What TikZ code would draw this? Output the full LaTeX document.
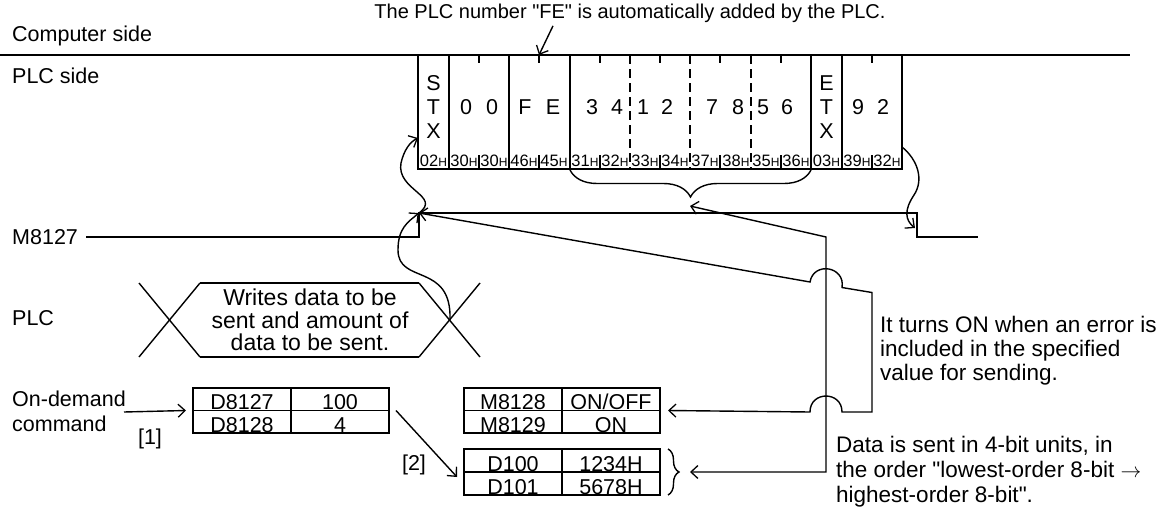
\documentclass[tikz,border=0pt]{standalone}
\usepackage{fontspec}
\setmainfont{Liberation Sans}[Ligatures=TeXOff]
\usetikzlibrary{arrows.meta,decorations.pathreplacing,positioning}
\tikzset{
  wire/.style={line width=1.4pt},
  tip/.style={-{Straight Barb[length=7pt,width=13pt,line width=1.3pt]}},
  tips/.style={{Straight Barb[length=7pt,width=13pt,line width=1.3pt]}-{Straight Barb[length=7pt,width=13pt,line width=1.3pt]}},
  lbl/.style={anchor=west, inner sep=0pt},
  cell/.style={draw, line width=1.4pt, outer sep=0pt, inner sep=0pt, minimum width=98pt,
    minimum height=22.5pt, text height=21pt, text depth=0pt},
  hexlbl/.style={inner sep=0pt, font=\fontsize{16.5}{16.5}\selectfont},
}
\newcommand{\hx}[1]{#1{\fontsize{12}{12}\selectfont H}}
\begin{document}
\begin{tikzpicture}[x=1pt, y=-1pt, font=\fontsize{21.5}{24}\selectfont]
  \useasboundingbox (0,0) rectangle (1168,514);
  % side labels
  \node[lbl] (comp) at (12,36) {Computer side};
  \node[lbl] (plcs) at (12,76) {PLC side};
  \node[lbl] (m27) at (12,237) {M8127};
  \node[lbl] (plc) at (12,318) {PLC};
  \node[lbl, align=left, font=\fontsize{21.5}{25}\selectfont] (cmd) at (12,411) {On-demand\\command};
  \node[font=\fontsize{20}{24}\selectfont] (fenote) at (630,13) {The PLC number "FE" is automatically added by the PLC.};
  % transmission frame
  \draw[wire] (0,55) -- (1130,55);
  \foreach \a/\b in {418/449,449/509,509/570,570/811,811/842,842/902}
    \draw[wire] (\a,55) rectangle (\b,169);
  \foreach \x in {479,539,600,660,720,781,872}
    \draw[line width=1.1pt] (\x,55) -- (\x,63) (\x,155) -- (\x,169);
  \foreach \x in {630,690,751}
    \draw[line width=1.1pt, dash pattern=on 9pt off 5pt] (\x,55) -- (\x,169);
  \node[align=center, inner sep=0pt] (stx) at (433.5,107) {S\\T\\X};
  \node[align=center, inner sep=0pt] (etx) at (826.5,107) {E\\T\\X};
  \foreach \x/\c in {466/0,492/0,525/F,553/E,592/3,617/4,643/1,667/2,712/7,738/8,763/5,787/6,858/9,883/2}
    \node[inner sep=0pt] (ch\x) at (\x,107) {\c};
  \foreach \x/\h in {433.5/02,464/30,494/30,524/46,554/45,585/31,615/32,645/33,675/34,705/37,736/38,766/35,796/36,826.5/03,857/39,887/32}
    \node[hexlbl] (h\x) at (\x,161) {\hx{\h}};
  \coordinate (fetop) at (539,55);
  \draw[wire, tip] (fenote.south -| 553,0) -- (fetop);
  % M8127
  \coordinate (rise) at (419,213);
  \coordinate (fall) at (917,213);
  \draw[wire] (86,237) -- (rise |- 0,237) -- (rise) -- (fall) -- (fall |- 0,237) -- (978,237);
  \coordinate (stxin) at (418,138);
  \draw[wire, tip] (rise) .. controls (442,196) and (396,190) .. (401,163) .. controls (404,150) and (410,142) .. (stxin);
  \coordinate (sumout) at (902,147);
  \draw[wire, tip] (sumout) .. controls (918,160) and (924,180) .. (914,195) .. controls (904,210) and (905,220) .. (915,228);
  % braces
  \draw[wire, decorate, decoration={brace, amplitude=27pt}] (811,170) -- (570,170);
  \coordinate (brtip) at (690,206);
  % PLC hexagon
  \draw[wire] (139,283) -- (200,357) (200,283) -- (139,357);
  \draw[wire] (419,283) -- (480,357) (480,283) -- (419,357);
  \draw[wire] (200,283) -- (419,283) (200,357) -- (419,357);
  \node[align=center, font=\fontsize{23}{22.5}\selectfont] (writes) at (310,320) {Writes data to be\\sent and amount of\\data to be sent.};
  \coordinate (hexR) at (450,320);
  \draw[wire, tip] (hexR) .. controls (452,262) and (398,285) .. (398,250) .. controls (398,228) and (408,222) .. (rise);
  % tables
  \node[cell, anchor=north west] (d27) at (193,388) {D8127};
  \node[cell, right=0pt of d27] (v100) {100};
  \node[cell, below=0pt of d27] (d28) {D8128};
  \node[cell, right=0pt of d28] (v4) {4};
  \node[cell, anchor=north west] (m28) at (464,388) {M8128};
  \node[cell, right=0pt of m28] (onoff) {ON/OFF};
  \node[cell, below=0pt of m28] (m29) {M8129};
  \node[cell, right=0pt of m29] (on) {ON};
  \node[cell, anchor=north west, minimum height=23pt] (d100) at (464,449) {D100};
  \node[cell, right=0pt of d100, minimum height=23pt] (v1234) {1234H};
  \node[cell, below=0pt of d100, minimum height=23pt] (d101) {D101};
  \node[cell, right=0pt of d101, minimum height=23pt] (v5678) {5678H};
  \draw[wire, decorate, decoration={brace, amplitude=11pt}] (668,449) -- (668,495);
  \draw[wire, tip] (124,412) -- ([xshift=-7pt]d27.south west);
  \node[inner sep=0pt] (one) at (150,439) {[1]};
  \draw[wire, tip] ([xshift=7pt]v100.south east) -- (457,477);
  \node[inner sep=0pt] (two) at (414,465) {[2]};
  % connectors on the right
  \draw[wire, tips] (brtip) -- (826,237) -- (826,472) -- ([xshift=30pt]v1234.south east);
  \draw[wire, tips] (rise) -- (810,282) .. controls (813.6,261) and (845.6,266.5) .. (842,287.5) -- (872,292.5)
    -- (872,412) -- (842,412) .. controls (842,390.7) and (810,390.7) .. (810,412) -- ([xshift=8pt]onoff.south east);
  \node[lbl, align=left, font=\fontsize{22.5}{24}\selectfont] (errnote) at (880,351) {It turns ON when an error is\\included in the specified\\value for sending.};
  \node[lbl, align=left, font=\fontsize{22.5}{25}\selectfont] (datanote) at (836,472) {Data is sent in 4-bit units, in\\the order "lowest-order 8-bit $\rightarrow$\\highest-order 8-bit".};
\end{tikzpicture}
\end{document}
